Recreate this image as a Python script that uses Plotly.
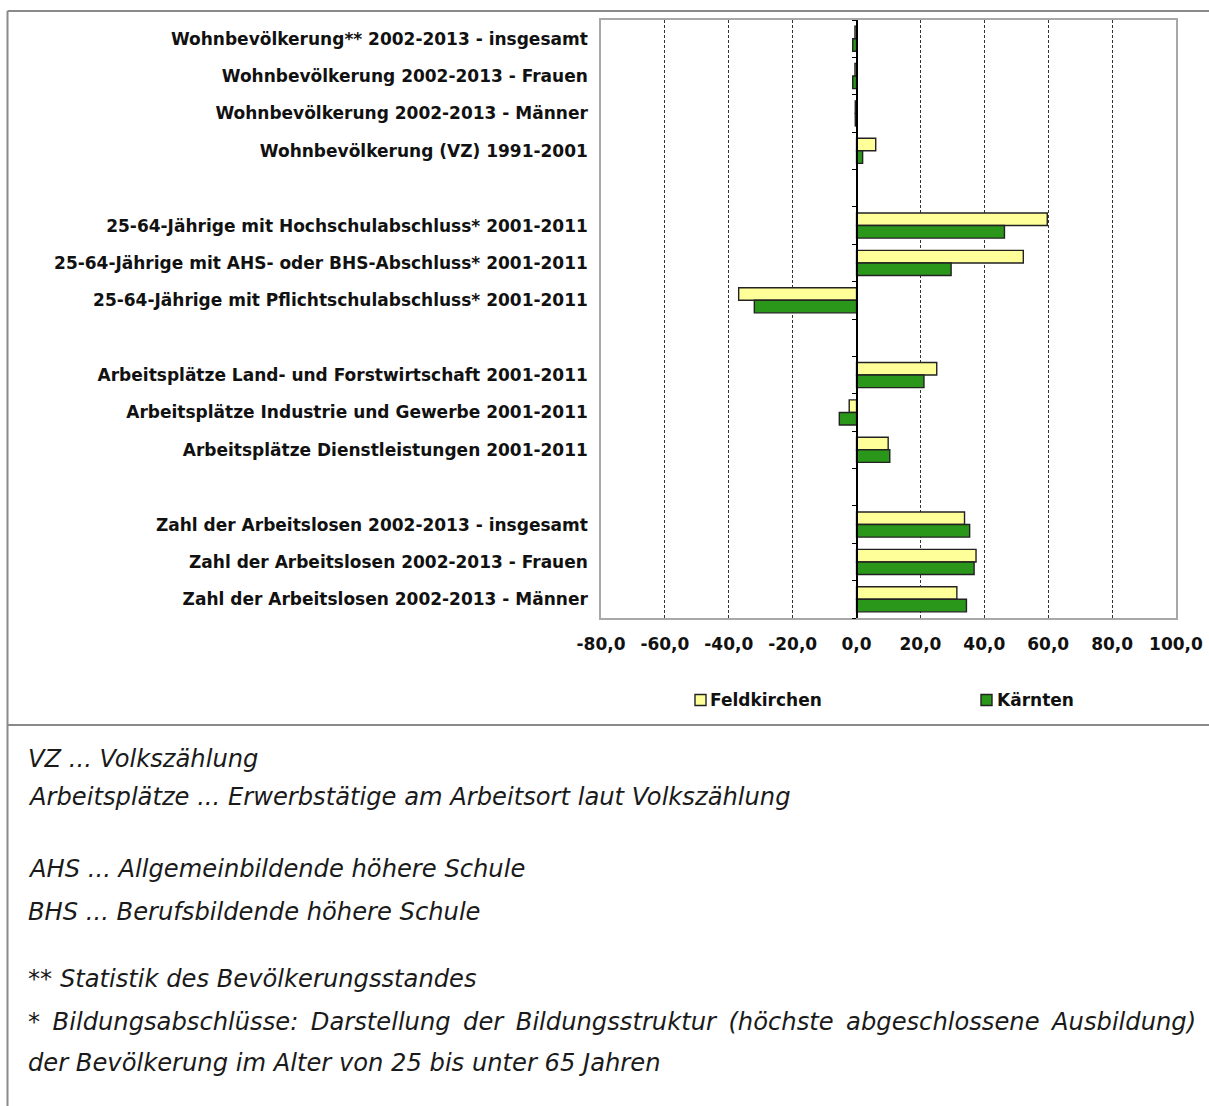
import plotly.graph_objects as go

W, H = 1209, 1106

categories = [
    "Wohnbevölkerung** 2002-2013 - insgesamt",
    "Wohnbevölkerung 2002-2013 - Frauen",
    "Wohnbevölkerung 2002-2013 - Männer",
    "Wohnbevölkerung (VZ) 1991-2001",
    "",
    "25-64-Jährige mit Hochschulabschluss* 2001-2011",
    "25-64-Jährige mit AHS- oder BHS-Abschluss* 2001-2011",
    "25-64-Jährige mit Pflichtschulabschluss* 2001-2011",
    "",
    "Arbeitsplätze Land- und Forstwirtschaft 2001-2011",
    "Arbeitsplätze Industrie und Gewerbe 2001-2011",
    "Arbeitsplätze Dienstleistungen 2001-2011",
    "",
    "Zahl der Arbeitslosen 2002-2013 - insgesamt",
    "Zahl der Arbeitslosen 2002-2013 - Frauen",
    "Zahl der Arbeitslosen 2002-2013 - Männer",
]
feldkirchen = [-0.5, -0.5, -0.4, 6.0, None, 59.7, 52.2, -36.9, None, 25.1, -2.3, 9.9, None, 33.8, 37.4, 31.4]
kaernten = [-1.2, -1.2, -0.4, 1.9, None, 46.3, 29.6, -32.0, None, 21.1, -5.4, 10.4, None, 35.4, 36.8, 34.4]
x_ticks = [-80, -60, -40, -20, 0, 20, 40, 60, 80, 100]

series_names = ["Feldkirchen", "Kärnten"]
series_colors = ["#FFFF99", "#2A961A"]

# the justified footnote line gets slightly widened word gaps
JUST = " \u200a\u200a"
footnotes = [
    ("VZ ... Volkszählung", 759),
    ("Arbeitsplätze ... Erwerbstätige am Arbeitsort laut Volkszählung", 797),
    ("AHS ... Allgemeinbildende höhere Schule", 869),
    ("BHS ... Berufsbildende höhere Schule", 912),
    ("** Statistik des Bevölkerungsstandes", 979),
    (JUST.join("* Bildungsabschlüsse: Darstellung der Bildungsstruktur (höchste abgeschlossene Ausbildung)".split(" ")), 1022),
    ("der Bevölkerung im Alter von 25 bis unter 65 Jahren", 1063),
]

ypos = list(range(len(categories)))
XMIN, XMAX = x_ticks[0], x_ticks[-1]

# plot area in pixels
PL, PR, PT, PB = 601, 1176, 20, 618


def px_x(px):
    return (px - PL) / (PR - PL)


def px_y(py):
    return (PB - py) / (PB - PT)


BOLD = dict(family="DejaVu Sans", size=17, color="#111111", weight="bold")

fig = go.Figure()
for name, vals, col in zip(series_names, [feldkirchen, kaernten], series_colors):
    fig.add_trace(go.Bar(
        y=ypos, x=vals, orientation="h", name=name,
        marker=dict(color=col, line=dict(color="#222222", width=1.4)),
    ))
# invisible helper on y2 so the zero-crossing category axis is drawn
fig.add_trace(go.Scatter(y=[ypos[0]], x=[0], yaxis="y2", mode="markers",
                         marker=dict(opacity=0), showlegend=False, hoverinfo="skip"))

zero_frac = (0 - XMIN) / (XMAX - XMIN)

fig.update_layout(
    width=W, height=H,
    margin=dict(l=PL, r=W - PR, t=PT, b=H - PB, autoexpand=False),
    paper_bgcolor="white", plot_bgcolor="white",
    barmode="group", bargap=0.33, bargroupgap=0,
    showlegend=False,
    xaxis=dict(
        range=[XMIN, XMAX], tickvals=x_ticks,
        ticktext=[f"{v:.1f}".replace(".", ",") for v in x_ticks],
        tickfont=BOLD, ticks="", ticklabelstandoff=10,
        showgrid=True, gridcolor="#333333", gridwidth=1, griddash="3px,2px",
        zeroline=True, zerolinecolor="#000000", zerolinewidth=1.5,
        showline=True, mirror=True, linecolor="#A8A8A8", linewidth=1.5,
        fixedrange=True,
    ),
    yaxis=dict(
        range=[len(categories) - 0.5, -0.5], tickvals=ypos, ticktext=categories,
        tickfont=BOLD, ticks="", ticklabelstandoff=8,
        showgrid=False, zeroline=False,
        showline=True, mirror=True, linecolor="#A8A8A8", linewidth=1.5,
    ),
    yaxis2=dict(
        overlaying="y", anchor="free", position=zero_frac, side="left",
        range=[len(categories) - 0.5, -0.5],
        tickvals=[i - 0.5 for i in range(len(categories) + 1)],
        ticks="outside", ticklen=4, tickcolor="#000000", tickwidth=1.2,
        showticklabels=False, showgrid=False, zeroline=False,
        showline=True, linecolor="#000000", linewidth=1.5,
    ),
)

# outer frame lines (paper coordinates)
frame = dict(color="#8A8A8A", width=2)
fig.add_shape(type="line", xref="paper", yref="paper", x0=px_x(7.5), x1=px_x(W), y0=px_y(11), y1=px_y(11), line=frame)
fig.add_shape(type="line", xref="paper", yref="paper", x0=px_x(7.5), x1=px_x(7.5), y0=px_y(11), y1=px_y(H), line=frame)
fig.add_shape(type="line", xref="paper", yref="paper", x0=px_x(7.5), x1=px_x(W), y0=px_y(725), y1=px_y(725), line=frame)

# legend (drawn manually to match the compact original layout)
legend_pos = [(700.5, 708), (986.5, 995)]
for name, col, (sx, tx) in zip(series_names, series_colors, legend_pos):
    fig.add_shape(type="rect", xref="paper", yref="paper",
                  x0=px_x(sx - 5.5), x1=px_x(sx + 5.5), y0=px_y(705.5), y1=px_y(694.5),
                  fillcolor=col, line=dict(color="#222222", width=1.4))
    fig.add_annotation(text=name, xref="paper", yref="paper", x=px_x(tx), y=px_y(700),
                       xanchor="left", yanchor="middle", showarrow=False, font=BOLD)

for text, py in footnotes:
    fig.add_annotation(
        text=text, xref="paper", yref="paper", x=px_x(26), y=px_y(py),
        xanchor="left", yanchor="middle", showarrow=False,
        font=dict(family="DejaVu Sans", size=24.2, color="#1a1a1a", style="italic"),
    )

fig.write_html("out.html", post_script="document.body.style.margin='0';",
               config={"displayModeBar": False})
